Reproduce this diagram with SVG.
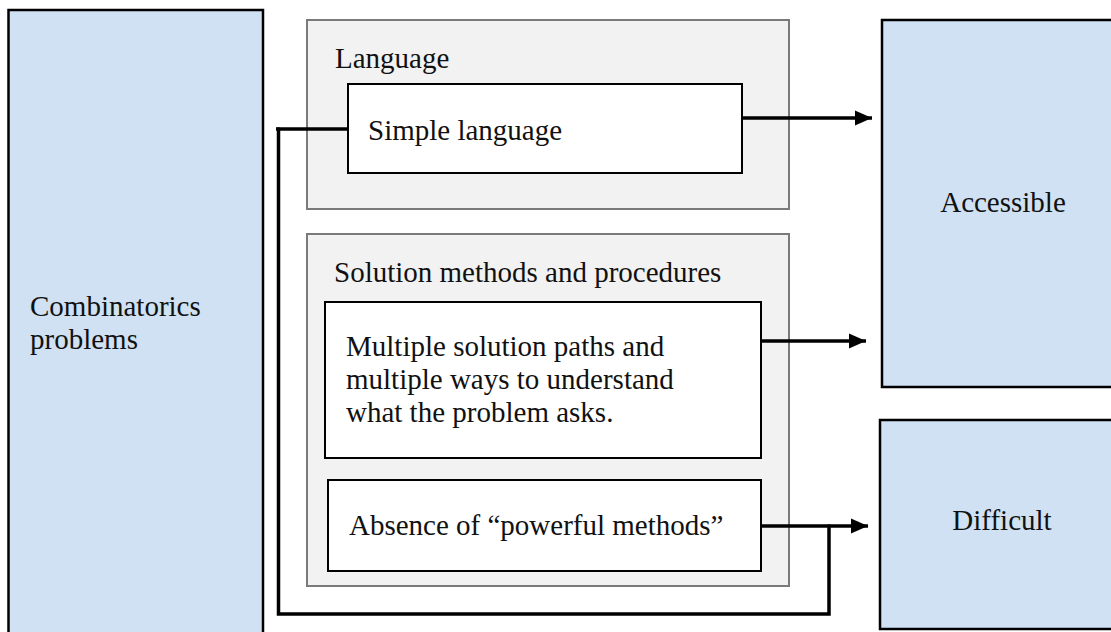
<svg xmlns="http://www.w3.org/2000/svg" width="1111" height="632" viewBox="0 0 1111 632">
<defs>
<marker id="arr" markerUnits="userSpaceOnUse" markerWidth="18" markerHeight="16" refX="17" refY="8" orient="auto" overflow="visible">
<path d="M0,0.5 L17,8 L0,15.5 z" fill="#000"/>
</marker>
<style>
text{font-family:"Liberation Serif","Times New Roman",serif;font-size:29px;fill:#111}
.blue{fill:#cfe1f2;stroke:#000;stroke-width:2.5}
.grp{fill:#f2f2f2;stroke:#7a7a7a;stroke-width:2}
.box{fill:#fff;stroke:#000;stroke-width:2}
.conn{fill:none;stroke:#000;stroke-width:3.5}
</style>
</defs>
<rect width="1111" height="632" fill="#fff"/>
<g id="combinatorics">
<rect class="blue" x="8.5" y="10" width="254.5" height="640"/>
<text x="30" y="316">Combinatorics</text>
<text x="30" y="349">problems</text>
</g>
<g id="language-group">
<rect class="grp" x="307" y="20" width="482" height="189"/>
<text x="335" y="68">Language</text>
</g>
<g id="simple-language">
<rect class="box" x="348" y="84" width="394" height="89"/>
<text x="368" y="140">Simple language</text>
</g>
<g id="solution-group">
<rect class="grp" x="307" y="234" width="482" height="352"/>
<text x="334" y="282">Solution methods and procedures</text>
</g>
<g id="multiple-paths">
<rect class="box" x="325" y="302" width="436" height="156"/>
<text x="346" y="356">Multiple solution paths and</text>
<text x="346" y="389">multiple ways to understand</text>
<text x="346" y="422">what the problem asks.</text>
</g>
<g id="absence">
<rect class="box" x="328" y="480" width="433" height="91"/>
<text x="349" y="535">Absence of “powerful methods”</text>
</g>
<g id="accessible">
<rect class="blue" x="882" y="20" width="260" height="367"/>
<text x="1003" y="212" text-anchor="middle">Accessible</text>
</g>
<g id="difficult">
<rect class="blue" x="880" y="420" width="260" height="209"/>
<text x="1002" y="530" text-anchor="middle">Difficult</text>
</g>
<g id="connectors">
<polyline class="conn" points="348,129 276,129"/>
<polyline class="conn" points="278.5,127.5 278.5,614 829,614 829,524.5"/>
<line class="conn" x1="742" y1="118" x2="872" y2="118" marker-end="url(#arr)"/>
<line class="conn" x1="761" y1="341" x2="866" y2="341" marker-end="url(#arr)"/>
<line class="conn" x1="761" y1="526" x2="868" y2="526" marker-end="url(#arr)"/>
</g>
</svg>
